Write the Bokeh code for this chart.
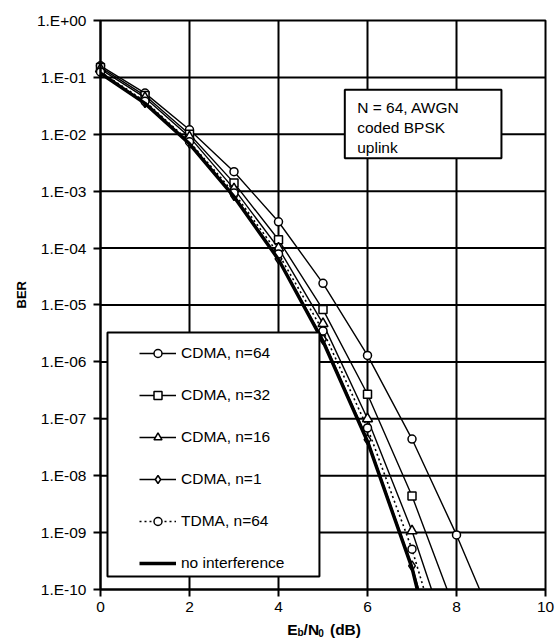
import math
from bokeh.plotting import figure
from bokeh.models import (Range1d, FixedTicker, CustomJSTickFormatter, Legend, LegendItem,
                          BoxAnnotation, Label)
from bokeh.embed import file_html
from bokeh.resources import INLINE

FONT = "Liberation Sans"

# ---- data ----
ebn0 = [0, 1, 2, 3, 4, 5, 6, 7, 8]
cdma64 = [0.16, 0.053, 0.012, 2.2e-3, 2.9e-4, 2.4e-5, 1.3e-6, 4.4e-8, 9.1e-10]
cdma32 = [0.15, 0.048, 0.010, 1.4e-3, 1.4e-4, 8.3e-6, 2.7e-7, 4.4e-9]
cdma16 = [0.14, 0.044, 0.0090, 1.1e-3, 1.0e-4, 4.7e-6, 1.0e-7, 1.07e-9]
cdma1 = [0.12, 0.036, 0.0070, 8.4e-4, 6.5e-5, 2.5e-6, 4.3e-8, 2.6e-10]
tdma64 = [0.125, 0.038, 0.0074, 9.3e-4, 7.9e-5, 3.5e-6, 6.9e-8, 5.1e-10]
no_interf = [0.118, 0.035, 0.0068, 8.0e-4, 6.3e-5, 2.3e-6, 4.0e-8, 2.4e-10]
# where each curve's line leaves the chart at BER = 1e-10
tail_ber = 1e-10
tail_x = {"cdma64": 8.52, "cdma32": 7.79, "cdma16": 7.44, "cdma1": 7.15,
          "tdma64": 7.27, "noint": 7.12}

x_ticks = [0, 2, 4, 6, 8, 10]
y_ticks = [1e-10, 1e-9, 1e-8, 1e-7, 1e-6, 1e-5, 1e-4, 1e-3, 1e-2, 1e-1, 1.0]
x_min, x_max = 0, 10
y_min, y_max = 1e-10, 1.0

# The frame covers the whole canvas; the axes are fixed at the plot-area edges so that
# tick labels and the subscripted axis title are never clipped.
p = figure(width=556, height=639, y_axis_type="log", output_backend="svg",
           toolbar_location=None,
           x_range=Range1d(-2.247, 10.247),
           y_range=Range1d(10 ** -10.879, 10 ** 0.3515),
           min_border_left=0, min_border_right=0, min_border_top=0, min_border_bottom=0)
p.background_fill_color = "white"
p.border_fill_color = "white"
p.outline_line_color = None

p.xaxis.ticker = FixedTicker(ticks=x_ticks)
p.xaxis.fixed_location = y_min
p.xaxis.bounds = (x_min, x_max)
p.yaxis.ticker = FixedTicker(ticks=y_ticks)
p.yaxis.fixed_location = x_min
p.yaxis.bounds = (y_min, y_max)
p.yaxis.formatter = CustomJSTickFormatter(code="""
const e = Math.round(Math.log10(tick));
return "1.E" + (e < 0 ? "-" : "+") + String(Math.abs(e)).padStart(2, "0");
""")
for ax in (p.xaxis, p.yaxis):
    ax.axis_line_width = 2
    ax.axis_line_color = "black"
    ax.major_tick_line_width = 2
    ax.major_tick_line_color = "black"
    ax.minor_tick_line_color = None
    ax.major_tick_in = 0
    ax.major_tick_out = 7
    ax.major_label_text_font = FONT
    ax.major_label_text_font_size = "15.5px"
    ax.major_label_text_color = "black"
p.xaxis.major_label_standoff = 6
p.yaxis.major_label_standoff = 7

p.xgrid.visible = False
p.ygrid.visible = False
# grid lines limited to the plot area
p.segment(x0=x_ticks[1:-1], y0=[y_min] * 4, x1=x_ticks[1:-1], y1=[y_max] * 4,
          line_color="black", line_width=2)
p.segment(x0=[x_min] * 9, y0=y_ticks[1:-1], x1=[x_max] * 9, y1=y_ticks[1:-1],
          line_color="black", line_width=2)

series = [
    ("CDMA, n=64", cdma64, tail_x["cdma64"], "circle", 1.4, "solid"),
    ("CDMA, n=32", cdma32, tail_x["cdma32"], "square", 1.4, "solid"),
    ("CDMA, n=16", cdma16, tail_x["cdma16"], "triangle", 1.4, "solid"),
    ("CDMA, n=1", cdma1, tail_x["cdma1"], "diamond", 1.4, "solid"),
    ("TDMA, n=64", tdma64, tail_x["tdma64"], "circle", 1.6, "2 3"),
]

items = []
for label, ys, tx, marker, lw, dash in series:
    xs = ebn0[:len(ys)]
    lr = p.line(xs + [tx], ys + [tail_ber], line_color="black", line_width=lw, line_dash=dash)
    sz = 10 if marker in ("triangle", "diamond") else 8
    sr = p.scatter(xs, ys, marker=marker, size=sz, fill_color="white",
                   line_color="black", line_width=1.5)
    items.append(LegendItem(label=label, renderers=[lr, sr]))

xs = ebn0[:len(no_interf)]
nr = p.line(xs + [tail_x["noint"]], no_interf + [tail_ber], line_color="black", line_width=3.5)
items.append(LegendItem(label="no interference", renderers=[nr]))

# plot-area border
p.add_layout(BoxAnnotation(left=x_min, right=x_max, top=y_max, bottom=y_min, fill_alpha=0.0,
                           line_color="black", line_width=2, line_alpha=1.0))

# legend frame
p.add_layout(BoxAnnotation(left=0.157, right=4.92, top=10 ** -5.483, bottom=10 ** -9.77,
                           fill_color="white", fill_alpha=1.0, line_color="black",
                           line_width=2, line_alpha=1.0))
legend = Legend(items=items, location=(139, 66), padding=0, margin=0,
                glyph_width=37, glyph_height=20, label_height=20, spacing=22,
                label_standoff=5, border_line_color=None, background_fill_alpha=0.0,
                label_text_font=FONT, label_text_font_size="15.5px", label_text_color="black")
p.add_layout(legend)

# annotation box
p.add_layout(BoxAnnotation(left=5.49, right=9.01, top=10 ** -1.218, bottom=10 ** -2.42,
                           fill_color="white", fill_alpha=1.0, line_color="black",
                           line_width=2, line_alpha=1.0))
for i, t in enumerate(["N = 64, AWGN", "coded BPSK", "uplink"]):
    p.add_layout(Label(x=5.49, y=10 ** -1.218, x_offset=12.4, y_offset=-17.4 - 20 * i,
                       text=t, text_font=FONT, text_font_size="15.5px",
                       text_color="black", text_baseline="alphabetic", text_align="left"))

# y-axis title
p.add_layout(Label(x=x_min, y=10 ** -4.82, x_offset=-79, text="BER", angle=math.pi / 2,
                   text_font=FONT, text_font_size="13px", text_font_style="bold",
                   text_color="black", text_align="center", text_baseline="middle"))

# x-axis title with subscripts
parts = [("E", 186.7, "15.5px", -40.0), ("b", 197.0, "10px", -43.5),
         ("/N", 203.1, "15.5px", -40.0), ("0", 217.8, "10px", -43.5),
         ("(dB)", 229.5, "15.5px", -40.0)]
for t, xo, fs, yo in parts:
    p.add_layout(Label(x=x_min, y=y_min, x_offset=xo, y_offset=yo, text=t, text_font=FONT,
                       text_font_size=fs, text_font_style="bold", text_color="black",
                       text_baseline="middle", text_align="left"))

open("out.html", "w").write(file_html(p, INLINE))
